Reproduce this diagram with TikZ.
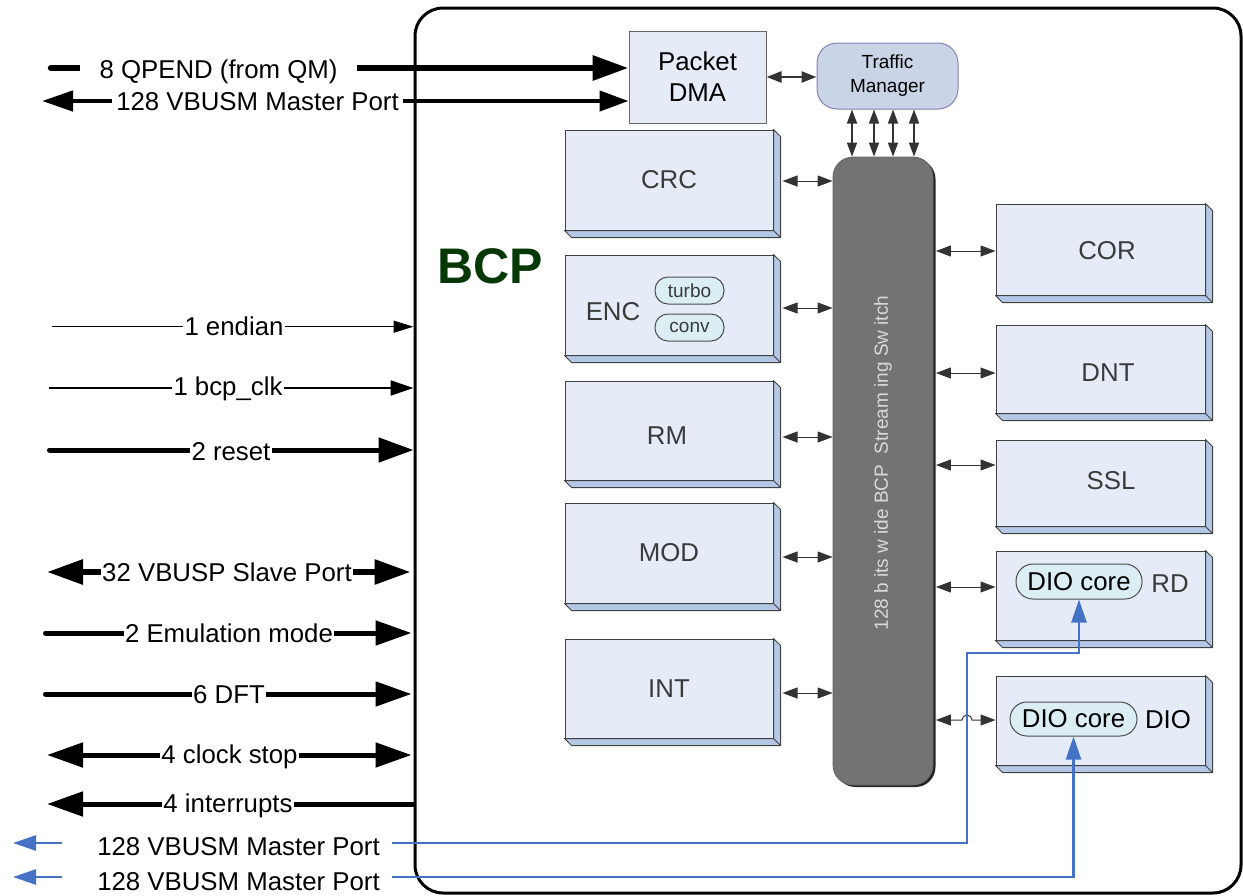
\documentclass[tikz,border=0pt]{standalone}
\usepackage{fontspec}
\setmainfont{Liberation Sans}
\usetikzlibrary{arrows.meta,calc}
\definecolor{front}{HTML}{E6ECF7}
\definecolor{side}{HTML}{B4C7E7}
\definecolor{pill}{HTML}{DAEEF3}
\definecolor{tmfill}{HTML}{C9D5E7}
\definecolor{tmedge}{HTML}{8C7DB8}
\definecolor{swgray}{HTML}{737373}
\definecolor{swtext}{HTML}{DADADA}
\definecolor{bcpgreen}{HTML}{063806}
\definecolor{lbl}{HTML}{3A3A3A}
\definecolor{vblue}{HTML}{4472C4}
\newcommand{\fbig}{\fontsize{25.8}{31}\selectfont}
\newcommand{\fmid}{\fontsize{19}{24}\selectfont}
\newcommand{\fpill}{\fontsize{19}{22}\selectfont}
\newcommand{\fbcp}{\fontsize{50}{60}\selectfont\bfseries}
\begin{document}
\begin{tikzpicture}[x=1pt,y=-1pt,
  bigtip/.tip={Triangle[length=36pt,width=24pt]},
  bluetip/.tip={Triangle[length=23pt,width=15pt]},
  outerbox/.style={draw, line width=3pt, rounded corners=28pt, inner sep=0pt},
  blk/.style={draw=black!75, line width=1pt, fill=front, inner sep=0pt, font=\fbig, text=lbl},
  face/.style={draw=black!75, line width=1pt, fill=side, line join=round},
  pillbox/.style={draw=black!70, line width=1pt, fill=pill, inner sep=0pt},
  lbltext/.style={font=\fbig, text=lbl, inner sep=0pt},
  sigtext/.style={fill=white, font=\fbig, inner ysep=0pt, inner xsep=1.5pt, text height=18pt, text depth=0pt},
  inarrow/.style={draw=black!80, line width=1pt, {Triangle[length=15pt,width=11pt]}-{Triangle[length=15pt,width=11pt]}},
  tmarrow/.style={draw=black!80, line width=1.5pt, {Triangle[length=14pt,width=10pt]}-{Triangle[length=14pt,width=10pt]}},
  thinsig/.style={line width=1.5pt, -{Triangle[length=20pt,width=12pt]}},
  thicksig/.style={line width=5pt, line cap=round},
  blueln/.style={draw=vblue, line width=2.5pt}
]
\useasboundingbox (0,0) rectangle (1243,895);

% outer BCP box
\node[outerbox, minimum width=826pt, minimum height=885pt] (bcp) at (828,450.5) {};
\node[font=\fbcp, text=bcpgreen, inner sep=0pt] (bcplbl) at (490,266) {BCP};

% Packet DMA and Traffic Manager
\node[draw=black!60, line width=1pt, fill=front, minimum width=137pt, minimum height=92pt,
      inner sep=0pt, font=\fbig, align=center] (pdma) at (697.5,77) {Packet\\DMA};
\node[draw=tmedge, line width=1pt, fill=tmfill, rounded corners=20pt, minimum width=141pt,
      minimum height=66pt, inner sep=0pt, font=\fmid, align=center] (tm) at (887.5,76) {Traffic\\Manager};

% left blocks
\node[blk, minimum width=208pt, minimum height=100pt] (crc) at (669,180) {CRC};
\node[blk, minimum width=208pt, minimum height=100pt] (enc) at (669,305) {};
\node[blk, minimum width=208pt, minimum height=99pt]  (rm)  at (669,430.5) {};
\node[blk, minimum width=208pt, minimum height=100pt] (mod) at (669,553) {MOD};
\node[blk, minimum width=208pt, minimum height=99pt]  (int) at (669,688.5) {INT};

% right blocks
\node[blk, minimum width=209pt, minimum height=91pt] (cor) at (1100.5,249.5) {};
\node[blk, minimum width=209pt, minimum height=88pt] (dnt) at (1100.5,369) {};
\node[blk, minimum width=209pt, minimum height=86pt] (ssl) at (1100.5,483) {};
\node[blk, minimum width=209pt, minimum height=89pt] (rd)  at (1100.5,595.5) {};
\node[blk, minimum width=209pt, minimum height=89pt] (dio) at (1100.5,720.5) {};

% 3D faces
\foreach \n in {crc,enc,rm,mod,int,cor,dnt,ssl,rd,dio}{
  \filldraw[face] (\n.north east) -- ++(7,7) -- ($(\n.south east)+(7,7)$) -- ($(\n.south west)+(7,7)$)
     -- (\n.south west) -- (\n.south east) -- cycle;
  \draw[face] (\n.south east) -- ++(7,7);
}

% labels inside blocks
\node[lbltext] (enclbl) at (613,312) {ENC};
\node[lbltext] (rmlbl) at (667,436) {RM};
\node[pillbox, rounded corners=13pt, minimum width=69pt, minimum height=27pt, font=\fpill, text=lbl] (turbo) at (689.5,290.5) {turbo};
\node[pillbox, rounded corners=13pt, minimum width=69pt, minimum height=27pt, font=\fpill, text=lbl] (conv) at (689.5,327.5) {conv};
\node[lbltext] (corlbl) at (1107,251) {COR};
\node[lbltext] (dntlbl) at (1108,373) {DNT};
\node[lbltext] (ssllbl) at (1111,481) {SSL};
\node[pillbox, rounded corners=17pt, minimum width=126pt, minimum height=35pt, font=\fbig] (rdcore) at (1079,581.5) {DIO core};
\node[lbltext] (rdlbl) at (1170,584) {RD};
\node[pillbox, rounded corners=17pt, minimum width=127pt, minimum height=34pt, font=\fbig] (dicore) at (1073.5,719) {DIO core};
\node[lbltext, text=black] (diolbl) at (1168,720) {DIO};

% streaming switch
\fill[black!85, rounded corners=20pt] (835.5,159) rectangle (935.5,787);
\node[fill=swgray, draw=black!60, line width=0.8pt, rounded corners=20pt, minimum width=100pt,
      minimum height=628pt, inner sep=0pt] (sw) at (883,471) {};
\node[rotate=90, text=swtext, font=\fmid, inner sep=0pt] (swlbl) at (883,463)
      {128 b its w ide BCP\ \ Stream ing Sw itch};

% internal arrows
\draw[inarrow, line width=2.5pt] (pdma.east) -- (pdma.east -| tm.west);
\foreach \dx [count=\i] in {-35.5,-13.5,5.5,26.5}{
  \coordinate (ta\i) at ($(tm.south)+(\dx,0)$);
  \draw[tmarrow] (ta\i) -- (ta\i |- sw.north);
}
\coordinate (ycrc) at (0,181);
\coordinate (yenc) at (0,308);
\coordinate (yrm)  at (0,437);
\coordinate (ymod) at (0,557);
\coordinate (yint) at (0,693);
\coordinate (ycor) at (0,251);
\coordinate (ydnt) at (0,373);
\coordinate (yssl) at (0,465);
\coordinate (yrd)  at (0,587);
\coordinate (ydio) at (0,720);
\foreach \b/\y in {crc/ycrc,enc/yenc,rm/yrm,mod/ymod,int/yint}{
  \draw[inarrow] ($(\y -| \b.east)+(9,0)$) -- (\y -| sw.west);
}
\foreach \b/\y in {cor/ycor,dnt/ydnt,ssl/yssl,rd/yrd}{
  \draw[inarrow] ($(\y -| sw.east)+(2.5,0)$) -- (\y -| \b.west);
}
\coordinate (hopL) at (962,720);
\draw[inarrow] ($(ydio -| sw.east)+(2.5,0)$) -- (hopL) arc[start angle=180,end angle=0,radius=5pt] -- (ydio -| dio.west);

% left signals: lines
\coordinate (q0) at (51,68);
\draw[line width=6.5pt, line cap=round, -{bigtip}] (q0) -- (q0 -| pdma.west);
\coordinate (m0) at (42,101);
\draw[line width=4.5pt, {Triangle[length=31pt,width=20pt]}-{Triangle[length=29pt,width=20pt]}] (m0) -- (m0 -| pdma.west);
\coordinate (e0) at (52,326.7);
\draw[thinsig] (e0) -- (e0 -| bcp.west);
\coordinate (c0) at (49,388);
\draw[line width=2.2pt, -{Triangle[length=23pt,width=15pt]}] (c0) -- (c0 -| bcp.west);
\coordinate (r0) at (49.5,450);
\draw[thicksig, -{Triangle[length=35pt,width=24pt]}] (r0) -- (r0 -| bcp.west);
\coordinate (v0) at (47,572);
\draw[line width=6pt, {bigtip}-{bigtip}] (v0) -- ($(v0 -| bcp.west)+(-3,0)$);
\coordinate (em0) at (45.5,633);
\draw[thicksig, -{bigtip}] (em0) -- ($(em0 -| bcp.west)+(-2,0)$);
\coordinate (d0) at (45.5,694);
\draw[thicksig, -{bigtip}] (d0) -- ($(d0 -| bcp.west)+(-2,0)$);
\coordinate (k0) at (47,755);
\draw[line width=5pt, {bigtip}-{bigtip}] (k0) -- ($(k0 -| bcp.west)+(-2,0)$);
\coordinate (i0) at (47,804);
\draw[line width=5pt, {bigtip}-] (i0) -- (i0 -| bcp.west);

% left signals: texts
\node[sigtext, inner xsep=20pt] (qpend) at (218.5,69) {8 QPEND (from QM)};
\node[sigtext, inner xsep=4pt] (vbm0) at (257.5,101.5) {128 VBUSM Master Port};
\node[sigtext] (endian) at (234,326.7) {1 endian};
\node[sigtext] (bclk) at (228,386) {1 bcp\_clk};
\node[sigtext] (reset) at (231,451) {2 reset};
\node[sigtext] (vbusp) at (227,572) {32 VBUSP Slave Port};
\node[sigtext] (emu) at (229,633) {2 Emulation mode};
\node[sigtext] (dft) at (229,694.5) {6 DFT};
\node[sigtext] (cstop) at (229.5,754) {4 clock stop};
\node[sigtext] (intr) at (228,803) {4 interrupts};
\node[sigtext] (vbm1) at (238.5,846.5) {128 VBUSM Master Port};
\node[sigtext] (vbm2) at (238.5,881) {128 VBUSM Master Port};

% blue master ports
\coordinate (bl1) at (62,843);
\coordinate (bt1) at (13,843);
\draw[blueln, -{bluetip}] (bl1) -- (bt1);
\coordinate (bl2) at (62,877);
\coordinate (bt2) at (13,877);
\draw[blueln, -{bluetip}] (bl2) -- (bt2);
\coordinate (b1a) at (392,843);
\coordinate (b1c) at (967,653);
\draw[blueln, -{bluetip}] (b1a) -| (b1c) -- (b1c -| rdcore.south) -- (rdcore.south);
\coordinate (b2a) at (392,877);
\draw[blueln, -{bluetip}] (b2a) -| (dicore.south);
\end{tikzpicture}
\end{document}
